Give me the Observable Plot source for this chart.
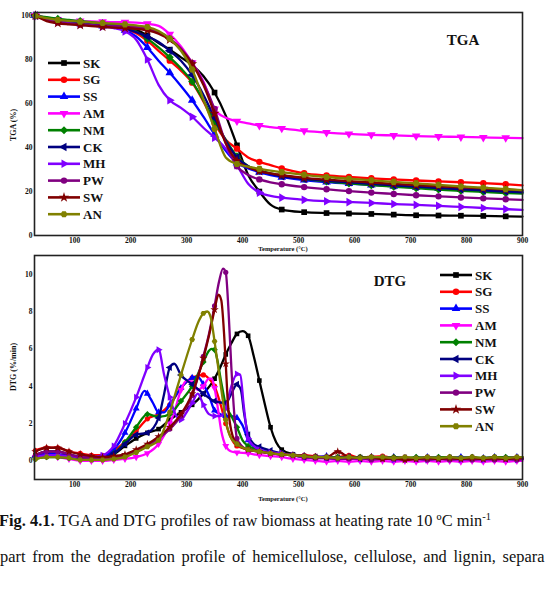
<!DOCTYPE html>
<html>
<head>
<meta charset="utf-8">
<script src="https://cdn.jsdelivr.net/npm/d3@7"></script>
<script src="https://cdn.jsdelivr.net/npm/@observablehq/plot@0.6"></script>
<style>
  html, body { margin: 0; padding: 0; background: #fff; }
  body { width: 554px; height: 594px; overflow: hidden; position: relative; }
  .panel { position: absolute; left: 0; }
  .txt { position: absolute; font-family: "Liberation Serif", "Times New Roman", serif; color: #111; white-space: nowrap; }
</style>
</head>
<body>
<div id="tga" class="panel" style="top:0"></div>
<div id="dtg" class="panel" style="top:243px"></div>
<div class="txt" style="left:-1px; top:511px; font-size:16.4px;"><b>Fig. 4.1.</b> TGA and DTG profiles of raw biomass at heating rate 10 ºC min<span style="font-size:10.5px; position:relative; top:-6px;">-1</span></div>
<div class="txt" style="left:0px; top:547px; font-size:16.4px; word-spacing:2.6px;">part from the degradation profile of hemicellulose, cellulose, and lignin, separa</div>
<script>
// ---- samples, colours, marker shapes ----
const SERIES = ["SK", "SG", "SS", "AM", "NM", "CK", "MH", "PW", "SW", "AN"];
const COLORS = ["#000000", "#ff0000", "#0000ff", "#ff00ff", "#008000", "#000080", "#8000ff", "#800080", "#800000", "#808000"];
const SHAPES = ["square", "circle", "triangle", "triangleDown", "diamond", "triangleLeft", "triangleRight", "circle", "star", "hexagon"];

const X_TICKS = [100, 200, 300, 400, 500, 600, 700, 800, 900];
const TGA_TICKS = [0, 20, 40, 60, 80, 100];
const DTG_TICKS = [0, 2, 4, 6, 8, 10];

// ---- TGA: mass remaining (%) vs temperature (°C) ----
const TEMP_TGA = [30, 50, 70, 90, 110, 130, 150, 170, 190, 210, 230, 250, 270, 290, 310, 330, 350, 370, 390, 410, 430, 450, 470, 510, 550, 590, 630, 670, 710, 750, 790, 830, 870, 900];
const TGA_SK = [100, 99, 97.8, 97, 96.5, 96, 95.7, 95.3, 94.8, 93.5, 91, 87.5, 84.5, 81, 77.5, 72.5, 65, 54.5, 41, 27.5, 20, 14, 11.8, 10.6, 10.2, 10, 9.8, 9.5, 9.2, 9.1, 9, 8.9, 8.7, 8.6];
const TGA_SG = [100, 98.5, 97.5, 96.8, 96.2, 95.8, 95.3, 94.8, 94, 92, 88.5, 84, 79.5, 75, 69.5, 61, 51, 43.5, 39.5, 35.5, 33.5, 32, 30.5, 28.3, 27.3, 26.6, 26, 25.5, 25, 24.6, 24.2, 23.8, 23.3, 22.8];
const TGA_SS = [100, 98.5, 97.5, 96.8, 96.3, 95.8, 95.3, 94.6, 93.3, 90.5, 85.5, 79.5, 74, 68, 61.5, 54, 46, 38.5, 33, 30.5, 28.8, 27.5, 26.5, 25.2, 24.3, 23.6, 23, 22.4, 21.9, 21.4, 21, 20.6, 20.2, 19.8];
const TGA_AM = [100, 99, 98.2, 97.8, 97.5, 97.3, 97.2, 97, 97, 96.8, 96.3, 95.3, 91.5, 86, 78.5, 70, 57.5, 53.5, 52, 51, 50, 49.3, 48.7, 47.6, 46.8, 46.2, 45.8, 45.5, 45.2, 45, 44.8, 44.6, 44.4, 44.3];
const TGA_NM = [100, 99.3, 98.5, 98, 97.5, 97, 96.5, 95.8, 94.8, 92.8, 89.5, 85.5, 81, 76, 70, 61.5, 52, 43.5, 36, 31.5, 29.5, 28.2, 27.3, 25.8, 24.6, 23.7, 22.9, 22.2, 21.5, 20.9, 20.3, 19.8, 19.3, 19];
const TGA_CK = [100, 98.5, 97.5, 96.8, 96.2, 95.7, 95.3, 94.8, 94, 92.5, 90.5, 88, 84, 79.5, 73, 64, 53.5, 43, 35.5, 31.5, 29.5, 28, 27, 25.7, 24.9, 24.2, 23.5, 22.8, 22.2, 21.6, 21, 20.5, 20, 19.6];
const TGA_MH = [100, 98.3, 97.2, 96.5, 96, 95.5, 95, 94.3, 92.8, 89, 80, 68.5, 61.5, 58, 54, 49, 44.5, 39.5, 32, 23.5, 19.5, 18, 17.2, 16.2, 15.6, 15.2, 14.8, 14.3, 13.9, 13.5, 13, 12.5, 12, 11.6];
const TGA_PW = [100, 98, 97, 96.3, 96, 95.7, 95.5, 95.3, 95, 94.8, 94, 92.5, 89.5, 85, 78.5, 69.5, 57.5, 42, 31.5, 27.5, 25.5, 24.2, 23.3, 22, 21, 20.2, 19.5, 18.9, 18.3, 17.8, 17.3, 16.9, 16.5, 16.2];
const TGA_SW = [100, 97.5, 96.5, 96, 95.6, 95.2, 94.8, 94.5, 94.3, 94, 93.3, 91.8, 89, 84.5, 78, 68.5, 55.5, 42, 34, 31, 29.3, 28.2, 27.4, 26.2, 25.4, 24.7, 24.1, 23.5, 22.9, 22.4, 21.9, 21.4, 20.9, 20.5];
const TGA_AN = [100, 98.8, 98, 97.6, 97.2, 96.9, 96.6, 96.3, 96, 95.5, 94.8, 93, 89.5, 84, 75.5, 62, 48.5, 35.5, 32.5, 31.3, 30.3, 29.5, 28.8, 27.6, 26.6, 25.8, 25.1, 24.4, 23.7, 23, 22.3, 21.7, 21.1, 20.6];

// ---- DTG: mass-loss rate (%/min), [temperature, rate] up to 490 °C ----
const DTG_SK = [[30,0.3],[50,0.5],[70,0.5],[90,0.35],[110,0.2],[130,0.15],[150,0.15],[170,0.35],[190,0.8],[210,1.2],[230,1.5],[250,1.7],[270,2.2],[290,2.6],[310,3.0],[330,3.6],[350,4.4],[360,5.0],[370,5.7],[380,6.3],[390,6.8],[400,6.95],[410,6.7],[420,5.6],[430,4.3],[440,3.0],[450,1.8],[460,1.0],[470,0.6],[490,0.35]];
const DTG_SG = [[30,0.55],[50,0.7],[70,0.7],[90,0.5],[110,0.4],[130,0.3],[150,0.3],[170,0.55],[190,1.0],[210,1.6],[230,2.25],[250,2.5],[270,3.0],[290,3.9],[310,4.45],[330,4.6],[340,4.4],[350,4.0],[360,3.1],[370,2.0],[380,1.2],[390,0.8],[410,0.6],[430,0.5],[450,0.4],[470,0.35],[490,0.3]];
const DTG_SS = [[30,0.3],[50,0.4],[70,0.35],[90,0.3],[110,0.2],[130,0.15],[150,0.2],[170,0.6],[190,1.5],[210,2.8],[225,3.75],[230,3.6],[240,3.1],[250,2.6],[260,2.6],[270,3.0],[290,3.9],[310,4.45],[320,4.5],[330,4.1],[340,3.5],[350,2.7],[360,2.5],[370,2.4],[380,2.4],[390,2.3],[400,1.9],[410,1.1],[430,0.6],[450,0.45],[470,0.35],[490,0.3]];
const DTG_AM = [[30,0.2],[50,0.25],[70,0.2],[90,0.1],[110,0],[130,0],[150,0],[170,0.05],[190,0.1],[210,0.2],[230,0.4],[250,0.9],[270,2.0],[280,2.8],[290,3.8],[300,4.3],[310,4.2],[320,3.8],[330,4.0],[340,4.4],[345,4.4],[350,3.9],[355,3.0],[362,1.6],[370,0.8],[380,0.5],[390,0.45],[410,0.4],[430,0.3],[450,0.25],[470,0.2],[490,0.1]];
const DTG_NM = [[30,0.1],[50,0.2],[70,0.2],[90,0.15],[110,0.1],[130,0.1],[150,0.15],[170,0.4],[190,1.0],[210,1.8],[230,2.5],[250,2.35],[270,2.5],[290,3.2],[310,4.0],[330,5.3],[340,5.9],[345,6.0],[350,5.95],[355,5.4],[362,4.2],[370,3.0],[380,2.4],[390,1.8],[400,1.1],[410,0.8],[430,0.6],[450,0.45],[470,0.35],[490,0.3]];
const DTG_CK = [[30,0.2],[50,0.3],[70,0.3],[90,0.25],[110,0.15],[130,0.1],[150,0.15],[170,0.4],[190,0.9],[210,1.4],[230,1.5],[250,2.3],[260,3.6],[270,5.0],[278,5.2],[290,4.6],[310,4.1],[330,3.6],[350,3.2],[370,3.1],[380,3.6],[390,4.1],[397,3.8],[403,2.5],[410,1.4],[420,0.9],[430,0.75],[450,0.55],[470,0.4],[490,0.3]];
const DTG_MH = [[30,0.2],[50,0.3],[70,0.3],[90,0.25],[110,0.2],[130,0.2],[150,0.3],[170,0.8],[190,2.0],[210,3.4],[230,5.0],[240,5.7],[250,5.95],[260,4.6],[270,3.4],[280,2.5],[290,2.2],[300,2.6],[310,3.1],[320,3.6],[330,3.0],[340,2.5],[350,2.4],[360,2.4],[370,2.8],[380,4.0],[390,4.65],[396,4.6],[402,3.0],[410,1.2],[420,0.8],[430,0.6],[450,0.45],[470,0.4],[490,0.3]];
const DTG_PW = [[30,0.3],[50,0.5],[70,0.5],[90,0.35],[110,0.2],[130,0.15],[150,0.1],[170,0.15],[190,0.3],[210,0.5],[230,0.8],[250,1.2],[270,1.7],[290,2.4],[310,3.5],[330,5.6],[340,6.8],[350,8.3],[358,9.6],[365,10.3],[370,10.1],[375,8.0],[380,5.0],[385,2.6],[390,1.2],[400,0.75],[410,0.6],[430,0.5],[450,0.4],[470,0.35],[490,0.3]];
const DTG_SW = [[30,0.5],[50,0.7],[70,0.7],[90,0.5],[110,0.35],[130,0.25],[150,0.2],[170,0.25],[190,0.35],[210,0.6],[230,0.9],[250,1.3],[270,1.8],[290,2.5],[310,3.6],[330,5.5],[340,6.7],[350,8.1],[357,8.9],[362,8.6],[367,6.8],[370,5.2],[374,3.0],[380,1.6],[390,0.9],[410,0.6],[430,0.5],[450,0.4],[470,0.35],[490,0.3]];
const DTG_AN = [[30,0.1],[50,0.2],[70,0.2],[90,0.15],[110,0.05],[130,0.05],[150,0.05],[170,0.1],[190,0.2],[210,0.45],[230,0.75],[250,1.1],[270,2.6],[280,3.6],[290,4.6],[310,6.5],[322,7.5],[330,7.9],[337,8.0],[343,7.7],[350,6.4],[357,4.9],[365,3.2],[370,2.2],[378,1.3],[390,0.9],[410,0.6],[430,0.5],[450,0.4],[470,0.35],[490,0.3]];

// DTG tail after devolatilisation, 510–900 °C
const TEMP_TAIL = [510, 530, 550, 570, 590, 610, 630, 650, 670, 690, 710, 730, 750, 770, 790, 810, 830, 850, 870, 890, 900];
const TAIL_SK = [0.25, 0.2, 0.2, 0.15, 0.15, 0.2, 0.1, 0.15, 0.15, 0.1, 0.1, 0.15, 0.1, 0.1, 0.15, 0.1, 0.1, 0.15, 0.1, 0.15, 0.1];
const TAIL_SG = [0.3, 0.25, 0.2, 0.2, 0.3, 0.15, 0.2, 0.25, 0.15, 0.2, 0.1, 0.2, 0.15, 0.2, 0.15, 0.2, 0.1, 0.2, 0.15, 0.2, 0.2];
const TAIL_SS = [0.25, 0.2, 0.25, 0.15, 0.2, 0.15, 0.2, 0.15, 0.2, 0.15, 0.15, 0.2, 0.15, 0.15, 0.2, 0.15, 0.15, 0.2, 0.15, 0.2, 0.15];
const TAIL_AM = [0.05, 0, -0.05, 0, -0.05, 0, -0.05, 0, -0.05, 0, -0.05, 0, -0.05, 0, -0.05, 0, -0.05, 0, -0.05, 0, 0];
const TAIL_NM = [0.2, 0.2, 0.15, 0.2, 0.15, 0.2, 0.2, 0.15, 0.2, 0.15, 0.2, 0.15, 0.2, 0.2, 0.15, 0.2, 0.15, 0.2, 0.2, 0.15, 0.2];
const TAIL_CK = [0.2, 0.2, 0.15, 0.15, 0.2, 0.1, 0.15, 0.15, 0.1, 0.15, 0.1, 0.15, 0.1, 0.15, 0.1, 0.15, 0.1, 0.15, 0.1, 0.15, 0.1];
const TAIL_MH = [0.2, 0.15, 0.15, 0.1, 0.15, 0.1, 0.1, 0.15, 0.05, 0.1, 0.1, 0.05, 0.1, 0.1, 0.05, 0.1, 0.05, 0.1, 0.1, 0.05, 0.1];
const TAIL_PW = [0.2, 0.15, 0.15, 0.1, 0.1, 0.15, 0.05, 0.1, 0.1, 0.05, 0.1, 0.05, 0.1, 0.05, 0.1, 0.05, 0.1, 0.05, 0.1, 0.05, 0.1];
const TAIL_SW = [0.25, 0.2, 0.2, 0.5, 0.2, 0.15, 0.2, 0.1, 0.15, 0.05, 0.1, 0.15, 0.1, 0.15, 0.1, 0.15, 0.1, 0.15, 0.1, 0.15, 0.15];
const TAIL_AN = [0.25, 0.2, 0.2, 0.15, 0.2, 0.15, 0.2, 0.2, 0.15, 0.2, 0.15, 0.2, 0.15, 0.2, 0.15, 0.2, 0.15, 0.2, 0.15, 0.2, 0.2];

const TGA = {SK: TGA_SK, SG: TGA_SG, SS: TGA_SS, AM: TGA_AM, NM: TGA_NM, CK: TGA_CK, MH: TGA_MH, PW: TGA_PW, SW: TGA_SW, AN: TGA_AN};
const DTG = {SK: DTG_SK, SG: DTG_SG, SS: DTG_SS, AM: DTG_AM, NM: DTG_NM, CK: DTG_CK, MH: DTG_MH, PW: DTG_PW, SW: DTG_SW, AN: DTG_AN};
const TAIL = {SK: TAIL_SK, SG: TAIL_SG, SS: TAIL_SS, AM: TAIL_AM, NM: TAIL_NM, CK: TAIL_CK, MH: TAIL_MH, PW: TAIL_PW, SW: TAIL_SW, AN: TAIL_AN};

// ---- marker shapes (d3 symbol-type objects, usable by Plot.dot and d3.symbol) ----
function polygon(n, angle0, areaFactor) {
  return {
    draw(ctx, size) {
      const R = Math.sqrt(size / areaFactor);
      for (let k = 0; k < n; ++k) {
        const a = angle0 + (2 * Math.PI * k) / n;
        const px = R * Math.cos(a), py = R * Math.sin(a);
        if (k === 0) ctx.moveTo(px, py); else ctx.lineTo(px, py);
      }
      ctx.closePath();
    }
  };
}
const TRI = 3 * Math.sqrt(3) / 4;
const SYMBOL = {
  square: d3.symbolSquare,
  circle: d3.symbolCircle,
  triangle: polygon(3, -Math.PI / 2, TRI),
  triangleDown: polygon(3, Math.PI / 2, TRI),
  triangleLeft: polygon(3, Math.PI, TRI),
  triangleRight: polygon(3, 0, TRI),
  diamond: polygon(4, -Math.PI / 2, 2),
  star: d3.symbolStar,
  hexagon: polygon(6, 0, 3 * Math.sqrt(3) / 2)
};

const FONT = "'Liberation Serif', 'Times New Roman', serif";

// ---- tidy rows ----
const tgaRows = SERIES.flatMap((s) => TEMP_TGA.map((t, j) => ({series: s, t, v: TGA[s][j], marker: (t - 30) % 40 === 0})));
const dtgRows = SERIES.flatMap((s) => [
  ...DTG[s].map(([t, v]) => ({series: s, t, v})),
  ...TEMP_TAIL.map((t, j) => ({series: s, t, v: TAIL[s][j]}))
]).map((d) => ({...d, marker: (d.t - 30) % 20 === 0}));

function seriesMarks(rows, r, width) {
  return SERIES.flatMap((s, i) => {
    const d = rows.filter((row) => row.series === s);
    return [
      Plot.line(d, {x: "t", y: "v", stroke: COLORS[i], strokeWidth: width, curve: "monotone-x", strokeLinejoin: "round"}),
      Plot.dot(d.filter((row) => row.marker), {x: "t", y: "v", symbol: SYMBOL[SHAPES[i]], r, fill: COLORS[i], stroke: "none"})
    ];
  });
}

function panel({height, marginBottom, yDomain, yTicks, rows, r, lineWidth}) {
  return Plot.plot({
    width: 554,
    height,
    marginLeft: 34,
    marginRight: 32,
    marginTop: 12,
    marginBottom,
    x: {domain: [28.4, 900]},
    y: {domain: yDomain},
    style: {fontFamily: FONT, fontWeight: "bold", fontSize: "7.5px", background: "transparent", color: "#111", overflow: "visible"},
    marks: [
      Plot.axisX({ticks: X_TICKS, tickSize: 0, tickPadding: 2, label: null}),
      Plot.axisY({ticks: yTicks, tickSize: 0, tickPadding: 2, label: null}),
      ...seriesMarks(rows, r, lineWidth),
      Plot.frame({stroke: "#222", strokeWidth: 1.6})
    ]
  });
}

function decorate(svg, {xLabelY, yLabel, yLabelCenter, title, titleX, titleY, legendX, legendY}) {
  const g = d3.select(svg).append("g")
    .attr("font-family", FONT).attr("font-weight", "bold").attr("fill", "#111").attr("text-anchor", "start");
  g.append("text").attr("x", 283).attr("y", xLabelY).attr("text-anchor", "middle").attr("font-size", 6.5).text("Temperature (°C)");
  g.append("text").attr("transform", `translate(16,${yLabelCenter}) rotate(-90)`).attr("text-anchor", "middle").attr("font-size", 8).text(yLabel);
  g.append("text").attr("x", titleX).attr("y", titleY).attr("text-anchor", "middle").attr("font-size", 15).text(title);
  const step = 16.8;
  SERIES.forEach((s, i) => {
    const y = legendY + i * step;
    const row = g.append("g");
    row.append("line").attr("x1", legendX).attr("x2", legendX + 32).attr("y1", y).attr("y2", y).attr("stroke", COLORS[i]).attr("stroke-width", 2.6);
    row.append("path").attr("d", d3.symbol().type(SYMBOL[SHAPES[i]]).size(Math.PI * 3.2 * 3.2)()).attr("transform", `translate(${legendX + 16},${y})`).attr("fill", COLORS[i]);
    row.append("text").attr("x", legendX + 35).attr("y", y).attr("dy", "0.35em").attr("font-size", 13).attr("text-anchor", "start").text(s);
  });
}

const tgaSvg = panel({height: 252, marginBottom: 17, yDomain: [0, 101.4], yTicks: TGA_TICKS, rows: tgaRows, r: 3.2, lineWidth: 2.3});
decorate(tgaSvg, {xLabelY: 250.5, yLabel: "TGA (%)", yLabelCenter: 125, title: "TGA", titleX: 463, titleY: 45, legendX: 48, legendY: 63});
document.getElementById("tga").appendChild(tgaSvg);

const dtgSvg = panel({height: 262, marginBottom: 26, yDomain: [-1, 11], yTicks: DTG_TICKS, rows: dtgRows, r: 2.6, lineWidth: 2.3});
decorate(dtgSvg, {xLabelY: 258, yLabel: "DTG (%/min)", yLabelCenter: 124, title: "DTG", titleX: 390, titleY: 43, legendX: 440, legendY: 32});
document.getElementById("dtg").appendChild(dtgSvg);
</script>
</body>
</html>
